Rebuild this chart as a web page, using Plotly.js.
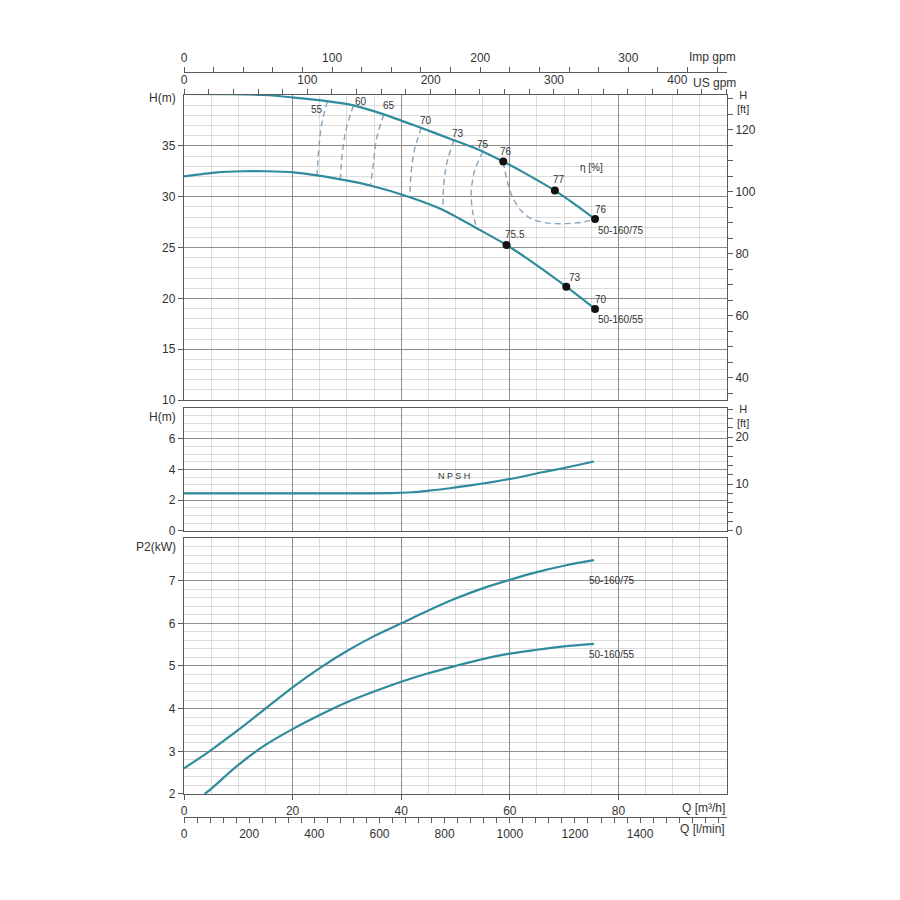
<!DOCTYPE html>
<html><head><meta charset="utf-8">
<script src="https://cdn.plot.ly/plotly-3.0.1.min.js"></script>
<style>html,body{margin:0;padding:0;background:#fff}#chart{width:900px;height:900px}</style>
</head><body><div id="chart"></div>
<script>
// ---------- DATA ----------
// Head curves, Q in m3/h, H in m
const qH75 = [0, 8, 14.7, 20.2, 26.3, 31.2, 36.8, 43.5, 49.7, 55.0, 58.8, 63.5, 68.3, 72.0, 75.7];
const h75  = [40.1, 40.08, 40.0, 39.75, 39.4, 38.98, 38.1, 36.8, 35.56, 34.45, 33.45, 32.1, 30.6, 29.25, 27.8];
const qH55 = [0, 6.1, 11, 15, 20.2, 24.5, 28.8, 34.3, 41.6, 47.7, 53.9, 59.4, 65, 70.4, 75.7];
const h55  = [32.0, 32.4, 32.5, 32.5, 32.4, 32.1, 31.7, 31.1, 29.95, 28.7, 26.9, 25.25, 23.25, 21.15, 18.96];

// Efficiency iso-lines
const eta55Q = [26.4, 25.3, 24.8, 24.5];        const eta55H = [39.4, 37.0, 34.5, 32.1];
const eta60Q = [31.2, 29.8, 29.1, 28.8];        const eta60H = [38.98, 36.5, 34.0, 31.7];
const eta65Q = [36.8, 35.5, 34.9, 34.4];        const eta65H = [38.1, 35.8, 33.4, 31.2];
const eta70Q = [43.7, 42.4, 41.8, 41.6];        const eta70H = [36.8, 34.5, 32.2, 29.95];
const eta73Q = [49.7, 48.4, 47.8, 47.7];        const eta73H = [35.56, 33.3, 31.0, 28.7];
const eta75Q = [55.0, 53.5, 52.9, 53.1, 53.9];  const eta75H = [34.45, 32.5, 30.6, 28.7, 26.9];
const eta76Q = [58.8, 59.4, 60.3, 61.8, 64.0, 67.0, 70.4, 73.5, 75.7];
const eta76H = [33.45, 31.8, 30.2, 28.8, 27.8, 27.4, 27.35, 27.5, 27.8];

// Duty points
const dot75Q = [58.8, 68.3, 75.7]; const dot75H = [33.45, 30.6, 27.8];
const dot55Q = [59.4, 70.4, 75.7]; const dot55H = [25.25, 21.15, 18.96];

// Labels in head panel
const headLabelText = ['55','60','65','70','73','75','76','η [%]','77','76','50-160/75','75.5','73','70','50-160/55'];
const headLabelQ    = [24.5, 32.6, 37.7, 44.6, 50.4, 55.0, 59.3, 75.0, 69.1, 76.8, 80.4, 60.9, 72.0, 76.8, 80.4];
const headLabelH    = [38.6, 39.35, 38.95, 37.47, 36.2, 35.1, 34.45, 32.9, 31.66, 28.7, 26.65, 26.25, 22.05, 19.9, 17.9];

// NPSH
const qNpsh = [0, 6.4, 20, 30, 38, 42, 45, 49, 53, 57, 61, 66, 70, 75.5];
const hNpsh = [2.45, 2.45, 2.45, 2.45, 2.46, 2.52, 2.62, 2.78, 2.98, 3.2, 3.45, 3.82, 4.1, 4.52];

// Power P2 (kW)
const qP75 = [0, 5, 10, 15, 20, 25, 30, 35, 40, 45, 50, 55, 60, 65, 70, 75.5];
const p75  = [2.6, 3.03, 3.5, 4.0, 4.5, 4.95, 5.35, 5.7, 6.0, 6.3, 6.58, 6.82, 7.02, 7.2, 7.35, 7.48];
const qP55 = [3.8, 5, 10, 15, 20, 25, 30, 35, 40, 45, 50, 55, 60, 65, 70, 75.5];
const p55  = [2.0, 2.12, 2.68, 3.15, 3.52, 3.85, 4.15, 4.4, 4.63, 4.83, 5.0, 5.16, 5.29, 5.38, 5.46, 5.52];
const powerLabelText = ['50-160/75', '50-160/55'];
const powerLabelQ = [78.7, 78.7];
const powerLabelP = [7.0, 5.27];

// Tick labels
const qTicks = [0, 20, 40, 60, 80];
const lminLabels = [0, 200, 400, 600, 800, 1000, 1200, 1400];
const usLabels = [0, 100, 200, 300, 400];
const impLabels = [0, 100, 200, 300];

// ---------- STYLE ----------
const curveColor = '#2f8b9d';
const dashColor = '#86a4bc';
const minorGrid = '#cdcdcd';
const majorGrid = '#8e8e8e';
const frameColor = '#5a5a5a';
const txt = '#333333';
const tickFont = {family: 'Liberation Sans, Arial, sans-serif', size: 12, color: txt};
const smallFont = {family: 'Liberation Sans Narrow, Liberation Sans, Arial Narrow, sans-serif', size: 10, color: txt};

// conversions
const M3H_PER_USGPM = 0.227125, M3H_PER_IMPGPM = 0.272765, FT_PER_M = 3.28084;
const QMAX = 100;

function ticksWithLabels(step, max, labels) {
  const v = [], t = [];
  for (let k = 0; k <= max + 1e-9; k += step) {
    const val = Math.round(k * 1000) / 1000;
    v.push(val);
    t.push(labels.some(l => Math.abs(l - val) < 1e-6) ? String(val) : '');
  }
  return {v, t};
}

// domains (paper)
const dTop = [0.5597, 0.9691], dMid = [0.3839, 0.5490], dBot = [0.0309, 0.3745];

function lineTrace(x, y, yaxis, color, width, dash, xaxis) {
  return {x, y, xaxis: xaxis || 'x', yaxis, type: 'scatter', mode: 'lines',
          line: {color, width, dash: dash || 'solid', shape: 'spline', smoothing: 0.8},
          hoverinfo: 'skip', showlegend: false};
}

const traces = [
  lineTrace(eta55Q, eta55H, 'y', dashColor, 1.4, '6px,4px', 'x2'),
  lineTrace(eta60Q, eta60H, 'y', dashColor, 1.4, '6px,4px', 'x2'),
  lineTrace(eta65Q, eta65H, 'y', dashColor, 1.4, '6px,4px', 'x2'),
  lineTrace(eta70Q, eta70H, 'y', dashColor, 1.4, '6px,4px', 'x2'),
  lineTrace(eta73Q, eta73H, 'y', dashColor, 1.4, '6px,4px', 'x2'),
  lineTrace(eta75Q, eta75H, 'y', dashColor, 1.4, '6px,4px', 'x2'),
  lineTrace(eta76Q, eta76H, 'y', dashColor, 1.4, '6px,4px', 'x2'),
  lineTrace(qH75, h75, 'y', curveColor, 2.2, null, 'x2'),
  lineTrace(qH55, h55, 'y', curveColor, 2.2, null, 'x2'),
  {x: dot75Q.concat(dot55Q), y: dot75H.concat(dot55H), xaxis: 'x2', yaxis: 'y', type: 'scatter', mode: 'markers',
   marker: {color: '#111', size: 8}, hoverinfo: 'skip', showlegend: false},
  lineTrace(qNpsh, hNpsh, 'y2', curveColor, 2.2, null, 'x3'),
  lineTrace(qP75, p75, 'y3', curveColor, 2.2, null, 'x'),
  lineTrace(qP55, p55, 'y3', curveColor, 2.2, null, 'x')
];

const gridX = {
  range: [0, QMAX], tickmode: 'linear', tick0: 0, dtick: 20,
  showgrid: true, gridcolor: majorGrid, gridwidth: 1,
  minor: {tick0: 0, dtick: 5, showgrid: true, gridcolor: minorGrid, gridwidth: 0.7, ticks: ''},
  showline: true, linecolor: frameColor, linewidth: 1.2, mirror: true,
  zeroline: false, fixedrange: true
};

const us = ticksWithLabels(20, QMAX / M3H_PER_USGPM, usLabels);
const imp = ticksWithLabels(20, QMAX / M3H_PER_IMPGPM, impLabels);
const lmin = ticksWithLabels(40, QMAX * 1000 / 60, lminLabels);
const ftTop = ticksWithLabels(5, 40 * FT_PER_M, [40, 60, 80, 100, 120]);
const ftMid = ticksWithLabels(2, 8 * FT_PER_M, [0, 10, 20]);

const layout = {
  width: 900, height: 900,
  margin: {l: 184, r: 173, t: 72, b: 83},
  paper_bgcolor: '#fff', plot_bgcolor: '#fff',
  font: tickFont,
  showlegend: false,
  xaxis: Object.assign({}, gridX, {anchor: 'y3', domain: [0, 1], tickvals: qTicks, tickmode: 'array',
    ticks: 'outside', ticklen: 5, tickcolor: frameColor, showticklabels: true, tickfont: tickFont}),
  xaxis2: Object.assign({}, gridX, {anchor: 'y', domain: [0, 1], matches: 'x', showticklabels: false, ticks: ''}),
  xaxis3: Object.assign({}, gridX, {anchor: 'y2', domain: [0, 1], matches: 'x', showticklabels: false, ticks: ''}),
  // US gpm on top of head panel
  xaxis4: {overlaying: 'x2', anchor: 'y', side: 'top', range: [0, QMAX / M3H_PER_USGPM],
    tickmode: 'array', tickvals: us.v, ticktext: us.t, ticks: 'outside', ticklen: 5, tickcolor: frameColor,
    showgrid: false, zeroline: false, showline: false, tickfont: tickFont, fixedrange: true},
  // Imp gpm free axis at top
  xaxis5: {overlaying: 'x2', anchor: 'free', position: 1, side: 'top', range: [0, QMAX / M3H_PER_IMPGPM],
    tickmode: 'array', tickvals: imp.v, ticktext: imp.t, ticks: 'outside', ticklen: 5, tickcolor: frameColor,
    showgrid: false, zeroline: false, showline: true, linecolor: frameColor, linewidth: 1.2, tickfont: tickFont, fixedrange: true},
  // l/min free axis at bottom
  xaxis6: {overlaying: 'x', anchor: 'free', position: 0, side: 'bottom', range: [0, QMAX * 1000 / 60],
    tickmode: 'array', tickvals: lmin.v, ticktext: lmin.t, ticks: 'outside', ticklen: 5, tickcolor: frameColor,
    showgrid: false, zeroline: false, showline: true, linecolor: frameColor, linewidth: 1.2, tickfont: tickFont, fixedrange: true},
  yaxis: {domain: dTop, anchor: 'x2', range: [10, 40], tickmode: 'array', tickvals: [10, 15, 20, 25, 30, 35],
    showgrid: true, gridcolor: majorGrid, gridwidth: 1,
    minor: {tick0: 10, dtick: 1, showgrid: true, gridcolor: minorGrid, gridwidth: 0.7, ticks: ''},
    ticks: 'outside', ticklen: 5, tickcolor: frameColor, showline: true, linecolor: frameColor, linewidth: 1.2, mirror: true,
    zeroline: false, fixedrange: true},
  yaxis2: {domain: dMid, anchor: 'x3', range: [0, 8], tickmode: 'array', tickvals: [0, 2, 4, 6],
    showgrid: true, gridcolor: majorGrid, gridwidth: 1,
    minor: {tick0: 0, dtick: 0.5, showgrid: true, gridcolor: minorGrid, gridwidth: 0.7, ticks: ''},
    ticks: 'outside', ticklen: 5, tickcolor: frameColor, showline: true, linecolor: frameColor, linewidth: 1.2, mirror: true,
    zeroline: false, fixedrange: true},
  yaxis3: {domain: dBot, anchor: 'x', range: [2, 8], tickmode: 'array', tickvals: [2, 3, 4, 5, 6, 7],
    showgrid: true, gridcolor: majorGrid, gridwidth: 1,
    minor: {tick0: 2, dtick: 0.2, showgrid: true, gridcolor: minorGrid, gridwidth: 0.7, ticks: ''},
    ticks: 'outside', ticklen: 5, tickcolor: frameColor, showline: true, linecolor: frameColor, linewidth: 1.2, mirror: true,
    zeroline: false, fixedrange: true},
  yaxis4: {overlaying: 'y', anchor: 'x2', side: 'right', range: [10 * FT_PER_M, 40 * FT_PER_M],
    tickmode: 'array', tickvals: ftTop.v, ticktext: ftTop.t, ticks: 'outside', ticklen: 5, tickcolor: frameColor,
    showgrid: false, zeroline: false, showline: false, tickfont: tickFont, fixedrange: true},
  yaxis5: {overlaying: 'y2', anchor: 'x3', side: 'right', range: [0, 8 * FT_PER_M],
    tickmode: 'array', tickvals: ftMid.v, ticktext: ftMid.t, ticks: 'outside', ticklen: 5, tickcolor: frameColor,
    showgrid: false, zeroline: false, showline: false, tickfont: tickFont, fixedrange: true},
  annotations: []
};

// dummy traces so overlay axes are drawn
traces.push({x: [0], y: [null], xaxis: 'x4', yaxis: 'y', type: 'scatter', mode: 'lines', hoverinfo: 'skip', showlegend: false});
traces.push({x: [0], y: [null], xaxis: 'x5', yaxis: 'y', type: 'scatter', mode: 'lines', hoverinfo: 'skip', showlegend: false});
traces.push({x: [0], y: [null], xaxis: 'x6', yaxis: 'y3', type: 'scatter', mode: 'lines', hoverinfo: 'skip', showlegend: false});
traces.push({x: [0], y: [null], xaxis: 'x2', yaxis: 'y4', type: 'scatter', mode: 'lines', hoverinfo: 'skip', showlegend: false});
traces.push({x: [0], y: [null], xaxis: 'x3', yaxis: 'y5', type: 'scatter', mode: 'lines', hoverinfo: 'skip', showlegend: false});

const ann = layout.annotations;
headLabelText.forEach((t, i) => ann.push({text: t, x: headLabelQ[i], y: headLabelH[i], xref: 'x2', yref: 'y',
  showarrow: false, font: smallFont, xanchor: 'center', yanchor: 'middle'}));
powerLabelText.forEach((t, i) => ann.push({text: t, x: powerLabelQ[i], y: powerLabelP[i], xref: 'x', yref: 'y3',
  showarrow: false, font: smallFont, xanchor: 'center', yanchor: 'middle'}));
ann.push({text: 'N P S H', x: 49.8, y: 3.55, xref: 'x3', yref: 'y2', showarrow: false,
  font: {family: smallFont.family, size: 9, color: txt}});
// axis unit labels
ann.push({text: 'H(m)', x: 0, xref: 'paper', y: 39.75, yref: 'y', xanchor: 'right', xshift: -6, showarrow: false, font: tickFont});
ann.push({text: 'H(m)', x: 0, xref: 'paper', y: 7.4, yref: 'y2', xanchor: 'right', xshift: -6, showarrow: false, font: tickFont});
ann.push({text: 'P2(kW)', x: 0, xref: 'paper', y: 7.78, yref: 'y3', xanchor: 'right', xshift: -6, showarrow: false, font: tickFont});
ann.push({text: 'H<br>[ft]', x: 1, xref: 'paper', y: 39.3, yref: 'y', xanchor: 'left', xshift: 8, showarrow: false,
  font: {family: tickFont.family, size: 11, color: txt}});
ann.push({text: 'H<br>[ft]', x: 1, xref: 'paper', y: 7.5, yref: 'y2', xanchor: 'left', xshift: 8, showarrow: false,
  font: {family: tickFont.family, size: 11, color: txt}});
ann.push({text: 'Q [m³/h]', x: 1, xref: 'paper', y: 0.0121, yref: 'paper', xanchor: 'right', yanchor: 'middle', showarrow: false, font: tickFont});
ann.push({text: 'Q [l/min]', x: 1, xref: 'paper', y: -0.0161, yref: 'paper', xanchor: 'right', yanchor: 'middle', showarrow: false, font: tickFont});
ann.push({text: 'US gpm', x: 1, xref: 'paper', y: 0.9856, yref: 'paper', xanchor: 'right', xshift: 11, yanchor: 'middle', showarrow: false, font: tickFont});
ann.push({text: 'Imp gpm', x: 1, xref: 'paper', y: 1.0197, yref: 'paper', xanchor: 'right', xshift: 11, yanchor: 'middle', showarrow: false, font: tickFont});

Plotly.newPlot('chart', traces, layout, {staticPlot: true, displayModeBar: false});
</script>
</body></html>
